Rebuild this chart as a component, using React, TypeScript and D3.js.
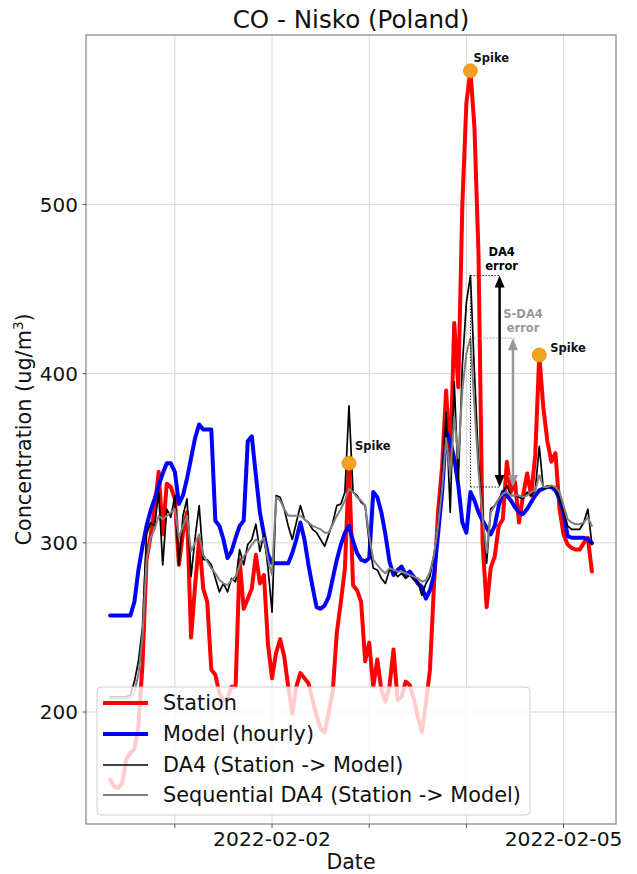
import React from 'react';
import * as d3 from 'd3';

// Hourly series starting 2022-01-31 08:00 (UTC)
const seriesStart = '2022-01-31T08:00:00Z';

const stationValues = [
  160, 156, 155, 158, 172, 176, 178, 192, 228, 290,
  304, 320, 342, 305, 335, 333, 326, 287, 306, 318,
  244, 275, 302, 273, 265, 225, 222, 211, 207, 208,
  215, 215, 290, 261, 267, 273, 293, 276, 281, 240,
  220, 235, 243, 233, 215, 199, 215, 223, 220, 217,
  207, 198, 190, 188, 200, 212, 247, 265, 285, 347,
  275, 272, 265, 230, 241, 215, 231, 213, 206, 215,
  237, 207, 209, 218, 216, 208, 197, 188, 205, 225,
  275, 318, 345, 390, 345, 430, 392, 500, 560, 579,
  545, 470, 300, 262, 285, 292, 310, 314, 348, 330,
  336, 312, 328, 341, 328, 352, 411, 380, 360, 348,
  353, 320, 305, 299, 297, 296, 296, 300, 303, 283,
];

const modelValues = [
  257, 257, 257, 257, 257, 257, 265, 284, 298, 310,
  319, 326, 334, 341, 347, 347, 342, 323, 328, 338,
  350, 362, 370, 367, 367, 367, 313, 310, 302, 291,
  295, 303, 310, 313, 360, 363, 340, 318, 305, 293,
  288, 288, 288, 288, 288, 294, 302, 312, 302, 287,
  274, 262, 261, 263, 268, 279, 290, 299, 306, 310,
  301, 294, 290, 289, 291, 330, 327, 318, 305, 289,
  281, 284, 286, 281, 283, 280, 276, 274, 267, 272,
  281, 305, 330, 366, 360, 350, 334, 312, 306, 330,
  325, 318, 313, 309, 305, 310, 322, 330, 328, 325,
  321, 318, 317, 320, 324, 328, 331, 332, 333, 333,
  331, 326, 318, 304, 303, 303, 303, 303, 302, 300,
];

const da4Values = [
  209, 209, 209, 209, 209, 210, 218, 230, 250, 305,
  312, 310, 330, 287, 320, 315, 328, 287, 316, 326,
  280, 303, 322, 290, 290, 287, 279, 271, 276, 271,
  279, 277, 296, 287, 299, 302, 311, 295, 305, 285,
  259, 328, 327, 320, 310, 302, 312, 322, 314, 312,
  308, 306, 302, 298, 305, 312, 322, 323, 330, 381,
  330, 328, 324, 322, 300, 285, 284, 279, 276, 284,
  284, 280, 282, 279, 281, 278, 277, 269, 276, 280,
  293, 310, 336, 377, 318, 395, 336, 405, 442, 458,
  400, 348, 318, 288, 320, 322, 326, 330, 334, 328,
  328, 327, 326, 330, 328, 331, 357, 332, 333, 333,
  332, 326, 318, 310, 308, 308, 308, 312, 320, 299,
];

const seqDa4Values = [
  208, 208, 208, 208, 208, 208, 212, 222, 245, 290,
  303, 308, 316, 314, 316, 318, 320, 303, 310, 316,
  295, 300, 305, 293, 289, 285, 282, 278, 276, 275,
  278, 280, 287, 292, 295, 299, 302, 300, 303, 290,
  281, 327, 325, 320, 316, 316, 316, 316, 314, 312,
  310, 309, 308, 306, 306, 311, 316, 320, 325, 332,
  330, 327, 325, 322, 304, 290, 287, 284, 282, 285,
  284, 283, 283, 282, 281, 280, 279, 277, 278, 283,
  293, 310, 332, 362, 340, 375, 350, 390, 412, 421,
  380, 342, 315, 294, 318, 322, 326, 329, 330, 328,
  328, 328, 327, 328, 330, 331, 340, 333, 333, 334,
  333, 330, 322, 314, 312, 311, 311, 312, 315, 310,
];

const spikeHours = [59, 89, 106];
const dayTicks = ['2022-02-01', '2022-02-02', '2022-02-03', '2022-02-04', '2022-02-05'];
const labelledDays = ['2022-02-02', '2022-02-05'];
const yTickValues = [200, 300, 400, 500];
const legendLabels = ['Station', 'Model (hourly)', 'DA4 (Station -> Model)', 'Sequential DA4 (Station -> Model)'];

// error annotation levels (ug/m3)
const da4Peak = 458;
const seqDa4Peak = 421;
const errorBase = 333;

const FONT = 'DejaVu Sans, sans-serif';

export default function App() {
  const W = 637, H = 874;
  const left = 86, right = 616, top = 35, bottom = 824;

  const t0 = new Date(seriesStart).getTime();
  const HOUR = 3600000;
  const timeAt = (h: number) => new Date(t0 + h * HOUR);
  const n = stationValues.length;
  const tPad = (n - 1) * HOUR * 0.05;

  const x = d3.scaleUtc()
    .domain([new Date(t0 - tPad), new Date(t0 + (n - 1) * HOUR + tPad)])
    .range([left, right]);

  const all = [...stationValues, ...modelValues, ...da4Values, ...seqDa4Values];
  const [vMin, vMax] = d3.extent(all) as [number, number];
  const vPad = (vMax - vMin) * 0.05;
  const y = d3.scaleLinear().domain([vMin - vPad, vMax + vPad]).range([bottom, top]);

  const line = d3.line<number>()
    .x((_, i) => x(timeAt(i)))
    .y((d) => y(d));

  const series = [
    { values: stationValues, color: '#ff0000', width: 4 },
    { values: modelValues, color: '#0000ff', width: 4 },
    { values: da4Values, color: '#000000', width: 1.7 },
    { values: seqDa4Values, color: '#808080', width: 2 },
  ];

  const dayDates = dayTicks.map((d) => new Date(d + 'T00:00:00Z'));

  const hx = (h: number) => x(timeAt(h));

  const arrow = (xp: number, y1: number, y2: number, color: string) => {
    const hl = 12, hw = 5;
    return (
      <g>
        <line x1={xp} x2={xp} y1={y1 + hl - 1} y2={y2 - hl + 1} stroke={color} strokeWidth={2.5} />
        <polygon points={`${xp},${y1} ${xp - hw},${y1 + hl} ${xp + hw},${y1 + hl}`} fill={color} />
        <polygon points={`${xp},${y2} ${xp - hw},${y2 - hl} ${xp + hw},${y2 - hl}`} fill={color} />
      </g>
    );
  };

  const spikeLabelOffsets = [[6, -13], [3, -9], [11, -3]];

  const legendX = 97, legendY = 687, legendW = 433, legendH = 128;
  const legendRows = [703, 734, 765, 795];

  return (
    <div>
      <style>{`body{margin:0}`}</style>
      <svg width={W} height={H} style={{ display: 'block', background: '#fff' }} fontFamily={FONT}>
        <defs>
          <clipPath id="plotClip">
            <rect x={left} y={top} width={right - left} height={bottom - top} />
          </clipPath>
        </defs>
        <rect x={0} y={0} width={W} height={H} fill="#fff" />
        {/* grid */}
        <g stroke="#d6d6d6" strokeWidth={1}>
          {dayDates.map((d, i) => (
            <line key={'gx' + i} x1={x(d)} x2={x(d)} y1={top} y2={bottom} />
          ))}
          {yTickValues.map((v) => (
            <line key={'gy' + v} x1={left} x2={right} y1={y(v)} y2={y(v)} />
          ))}
        </g>
        {/* series */}
        <g clipPath="url(#plotClip)" fill="none" strokeLinejoin="round" strokeLinecap="round">
          {series.map((s, i) => (
            <path key={i} d={line(s.values) || ''} stroke={s.color} strokeWidth={s.width} />
          ))}
        </g>
        {/* spikes */}
        {spikeHours.map((h, i) => (
          <g key={'sp' + i}>
            <circle cx={hx(h)} cy={y(stationValues[h])} r={7} fill="#f2a21e" stroke="#d98e12" strokeWidth={0.8} />
            <text x={hx(h) + spikeLabelOffsets[i][0]} y={y(stationValues[h]) + spikeLabelOffsets[i][1]}
              fontSize={11.5} fontWeight="bold" fill="#111">Spike</text>
          </g>
        ))}
        {/* error annotations */}
        <g fill="none" strokeDasharray="1.5,1.5" strokeWidth={1}>
          <line x1={hx(89)} x2={hx(96.2)} y1={y(da4Peak)} y2={y(da4Peak)} stroke="#222" />
          <line x1={hx(89)} x2={hx(96.2)} y1={y(errorBase)} y2={y(errorBase)} stroke="#222" />
          <line x1={hx(89)} x2={hx(89)} y1={y(da4Peak)} y2={y(errorBase)} stroke="#222" />
          <line x1={hx(90)} x2={hx(100)} y1={y(seqDa4Peak)} y2={y(seqDa4Peak)} stroke="#999" />
        </g>
        {arrow(hx(96.2), y(da4Peak), y(errorBase), '#000')}
        {arrow(hx(99.5), y(seqDa4Peak), y(errorBase), '#999')}
        <g fontSize={11.5} fontWeight="bold" textAnchor="middle">
          <text x={hx(96.7)} y={y(da4Peak) - 20} fill="#000">DA4</text>
          <text x={hx(96.7)} y={y(da4Peak) - 6} fill="#000">error</text>
          <text x={hx(102)} y={y(seqDa4Peak) - 20} fill="#999">S-DA4</text>
          <text x={hx(102)} y={y(seqDa4Peak) - 6} fill="#999">error</text>
        </g>
        {/* legend */}
        <g>
          <rect x={legendX} y={legendY} width={legendW} height={legendH} rx={4} fill="#fff" fillOpacity={0.8} stroke="#d0d0d0" strokeWidth={1} />
          {legendLabels.map((lab, i) => (
            <g key={'lg' + i}>
              <line x1={103} x2={148} y1={legendRows[i]} y2={legendRows[i]} stroke={series[i].color} strokeWidth={series[i].width} />
              <text x={163} y={legendRows[i]} dy="0.35em" fontSize={20.8} fill="#111">{lab}</text>
            </g>
          ))}
        </g>
        {/* frame */}
        <rect x={left} y={top} width={right - left} height={bottom - top} fill="none" stroke="#8a8a8a" strokeWidth={1.3} />
        {/* y ticks */}
        {yTickValues.map((v) => (
          <g key={'yt' + v}>
            <line x1={left - 3.5} x2={left} y1={y(v)} y2={y(v)} stroke="#555" strokeWidth={1} />
            <text x={78} y={y(v)} dy="0.35em" textAnchor="end" fontSize={20} fill="#111">{v}</text>
          </g>
        ))}
        {/* x ticks */}
        {dayDates.map((d, i) => (
          <line key={'xt' + i} x1={x(d)} x2={x(d)} y1={bottom} y2={bottom + 4} stroke="#555" strokeWidth={1} />
        ))}
        {labelledDays.map((s) => {
          const d = new Date(s + 'T00:00:00Z');
          return <text key={s} x={x(d)} y={846} textAnchor="middle" fontSize={20.3} fill="#111">{s}</text>;
        })}
        <text x={(left + right) / 2} y={869} textAnchor="middle" fontSize={20.5} fill="#111">Date</text>
        <text transform={`translate(31,${(top + bottom) / 2}) rotate(-90)`} textAnchor="middle" fontSize={20.8} fill="#111">
          Concentration (ug/m<tspan fontSize={13.5} dy={-8}>3</tspan><tspan dy={8}>)</tspan>
        </text>
        <text x={(left + right) / 2} y={28} textAnchor="middle" fontSize={24.6} fill="#111">CO - Nisko (Poland)</text>
      </svg>
    </div>
  );
}
